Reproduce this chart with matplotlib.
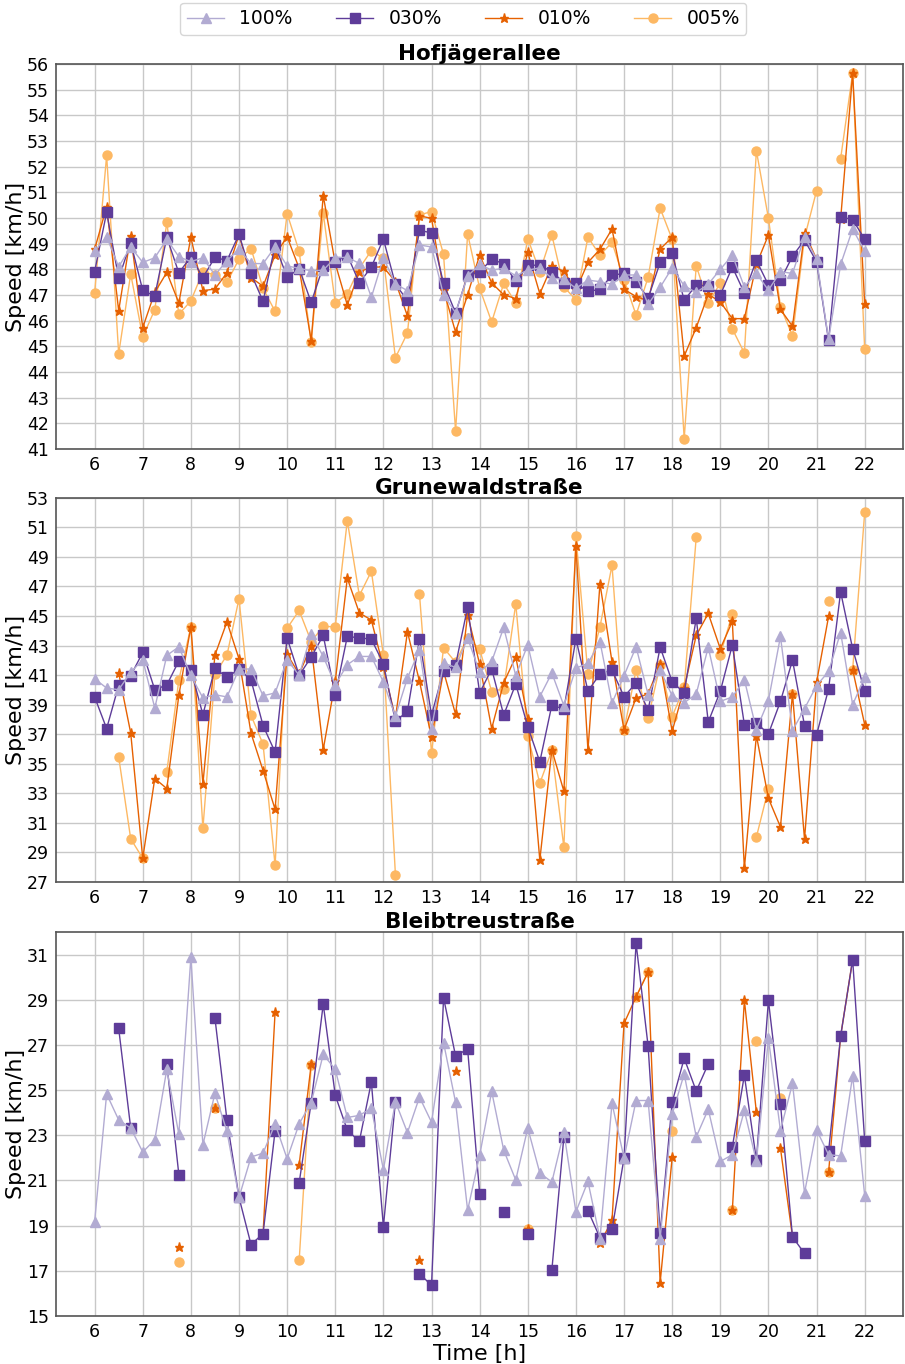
import numpy as np
import matplotlib
matplotlib.use('Agg')
import matplotlib.pyplot as plt

nan = np.nan

# time of day in quarter-hour steps
hours = np.arange(6, 22.01, 0.25)

# PuOr palette, one colour per share of probe vehicles
share_labels = ['100%', '030%', '010%', '005%']
share_colors = {'100%': '#b2abd2', '030%': '#5e3c99', '010%': '#e66101', '005%': '#fdb863'}
share_markers = {'100%': '^', '030%': 's', '010%': '*', '005%': 'o'}
share_sizes = {'100%': 6.5, '030%': 6.5, '010%': 6.5, '005%': 6.5}

# --- Hofjägerallee ---
hof_100 = [48.71, 49.27, 48.10, 48.87, 48.27, 48.45, 49.17, 48.49, 48.30, 48.45, 47.78, 48.34, 48.79,
           48.23, 48.22, 48.88, 48.13, 48.04, 47.94, 47.97, 48.45, 48.47, 48.23, 46.91, 48.45, 47.43,
           47.17, 48.95, 48.87, 47.00, 46.31, 47.74, 48.19, 47.97, 48.04, 47.75, 47.97, 48.06, 47.65,
           47.62, 47.26, 47.58, 47.52, 47.42, 47.78, 47.78, 46.64, 47.30, 48.06, 47.36, 47.10, 47.42,
           48.00, 48.55, 47.32, 47.84, 47.19, 47.91, 47.84, 49.27, 48.40, 45.27, 48.19, 49.57, 48.71]
hof_030 = [47.91, 50.22, 47.65, 49.04, 47.18, 46.96, 49.25, 47.86, 48.49, 47.68, 48.47, 48.34, 49.36,
           47.84, 46.75, 48.94, 47.69, 48.03, 46.71, 48.12, 48.30, 48.56, 47.47, 48.09, 49.18, 47.42,
           46.79, 49.52, 49.42, 47.45, 46.30, 47.77, 47.90, 48.39, 48.22, 47.53, 48.16, 48.16, 47.91,
           47.48, 47.45, 47.14, 47.22, 47.77, 47.84, 47.52, 46.87, 48.27, 48.62, 46.79, 47.39, 47.35,
           47.00, 48.09, 47.08, 48.35, 47.39, 47.58, 48.51, 49.14, 48.30, 45.23, 50.04, 49.94, 49.17]
hof_010 = [48.78, 50.44, 46.39, 49.31, 45.73, 47.10, 47.88, 46.69, 49.25, 47.17, 47.23, 47.87, 49.34,
           47.68, 47.34, 48.56, 49.27, 48.04, 45.22, 50.87, 48.23, 46.61, 47.90, 48.09, 48.09, 47.52,
           46.18, 50.08, 49.99, 47.20, 45.55, 47.01, 48.56, 47.47, 47.01, 46.86, 48.66, 47.05, 48.13,
           47.92, 47.19, 48.27, 48.78, 49.57, 47.22, 46.94, 46.77, 48.79, 49.25, 44.62, 45.73, 47.03,
           46.73, 46.08, 46.08, 48.19, 49.34, 46.44, 45.78, 49.43, 48.40, nan, 49.95, 55.64, 46.65]
hof_005 = [47.08, 52.44, 44.71, 47.82, 45.36, 46.43, 49.83, 46.25, 46.77, 47.91, 47.78, 47.49, 48.40,
           48.81, 47.26, 46.36, 50.17, 48.70, 45.16, 50.19, 46.68, 47.05, 48.04, 48.73, 48.43, 44.56,
           45.52, 50.12, 50.25, 48.58, 41.69, 49.38, 47.26, 45.95, 47.45, 46.68, 49.19, 47.91, 49.34,
           47.32, 46.81, 49.25, 48.55, 49.05, 47.60, 46.22, 47.69, 50.38, 49.17, 41.40, 48.14, 46.68,
           47.47, 45.68, 44.74, 52.62, 49.99, 46.55, 45.40, 49.23, 51.06, nan, 52.31, 55.64, 44.88]

# --- Grunewaldstraße ---
gru_100 = [40.75, 40.12, 40.01, 41.18, 42.04, 38.77, 42.33, 42.91, 40.98, 39.45, 39.67, 39.52, 41.41,
           41.41, 39.60, 39.79, 42.04, 40.98, 43.77, 42.26, 40.35, 41.70, 42.26, 42.26, 40.53, 38.21,
           40.80, 42.71, 37.38, 41.81, 41.52, 43.50, 41.20, 41.92, 44.22, 40.96, 43.05, 39.54, 41.14,
           38.93, 41.47, 41.79, 43.27, 39.11, 40.96, 42.91, 39.67, 41.36, 39.60, 39.13, 39.72, 42.89,
           39.22, 39.52, 40.69, 37.31, 39.27, 43.61, 37.24, 38.73, 40.28, 41.25, 43.88, 39.00, 40.84]
gru_030 = [39.52, 37.38, 40.30, 40.96, 42.53, 40.01, 40.33, 41.95, 41.36, 38.32, 41.47, 40.84, 41.41,
           40.66, 37.58, 35.78, 43.50, 40.98, 42.22, 43.68, 39.65, 43.61, 43.52, 43.43, 41.77, 37.87,
           38.55, 43.43, 38.28, 41.29, 41.68, 45.59, 39.79, 41.41, 38.30, 40.39, 37.51, 35.13, 38.97,
           38.70, 43.45, 39.92, 41.07, 41.34, 39.54, 40.46, 38.61, 42.89, 40.55, 39.79, 44.85, 37.83,
           39.90, 43.03, 37.65, 37.76, 37.02, 39.22, 42.01, 37.58, 36.95, 40.06, 46.63, 42.78, 39.92]
gru_010 = [nan, nan, 41.14, 37.08, 28.60, 34.00, 33.32, 39.63, 44.27, 33.64, 42.35, 44.60, 42.10,
           37.06, 34.54, 31.91, 42.40, 41.07, 42.98, 35.96, 40.57, 47.55, 45.21, 44.72, 41.52, 38.10,
           43.93, 40.57, 36.79, 41.25, 38.34, 45.08, 41.74, 37.38, 40.48, 42.24, 38.05, 28.48, 35.94,
           33.14, 49.74, 35.91, 47.19, 41.90, 37.29, 39.45, 39.72, 41.77, 37.20, 40.12, 43.68, 45.17,
           42.78, 44.63, 27.92, 36.91, 32.66, 30.72, 39.72, 29.89, 40.51, 44.97, nan, 41.37, 37.65]
gru_005 = [nan, nan, 35.46, 29.92, 28.60, nan, 34.45, 40.66, 44.27, 30.62, 41.07, 42.35, 46.16,
           38.28, 36.32, 28.12, 44.17, 45.37, 43.27, 44.29, 44.27, 51.45, 46.38, 48.02, 42.35, 27.49,
           nan, 46.49, 35.71, 42.85, 41.86, 43.54, 42.76, 39.88, 40.08, 45.82, 36.88, 33.68, 35.90,
           29.34, 50.41, 41.07, 44.27, 48.43, 37.29, 41.34, 38.07, 41.70, 38.19, 40.17, 50.33, nan,
           42.36, 45.15, nan, 30.04, 33.31, nan, 39.72, nan, nan, 45.98, nan, 41.37, 52.01]

# --- Bleibtreustraße ---
ble_100 = [19.17, 24.83, 23.68, 23.32, 22.26, 22.80, 25.92, 23.05, 30.88, 22.58, 24.86, 23.17, 20.25,
           22.04, 22.21, 23.51, 21.96, 23.51, 24.45, 26.58, 25.92, 23.79, 23.88, 24.20, 21.48, 24.49,
           23.12, 24.69, 23.58, 27.10, 24.46, 19.68, 22.11, 24.94, 22.34, 21.02, 23.32, 21.33, 20.93,
           23.14, 19.61, 20.96, 18.43, 24.42, 21.99, 24.54, 24.54, 18.43, 23.93, 25.72, 22.93, 24.15,
           21.84, 22.14, 24.10, 21.84, 27.29, 23.21, 25.30, 20.45, 23.24, 22.14, 22.09, 25.64, 20.33]
ble_030 = [nan, nan, 27.73, 23.32, nan, nan, 26.17, 21.26, nan, nan, 28.19, 23.67, 20.25,
           18.16, 18.65, 23.20, nan, 20.90, 24.45, 28.81, 24.77, 23.23, 22.73, 25.36, 18.96, 24.49,
           nan, 16.88, 16.35, 29.09, 26.51, 26.82, 20.42, nan, 19.59, nan, 18.61, nan, 17.03,
           22.93, nan, 19.67, 18.46, 18.83, 21.99, 31.50, 26.95, 18.66, 24.46, 26.41, 24.96, 26.16,
           nan, 22.48, 25.66, 21.90, 28.97, 24.39, 18.50, 17.77, nan, 22.29, 27.39, 30.78, 22.76]
ble_010 = [nan, nan, nan, nan, nan, nan, nan, 18.05, nan, nan, 24.23, nan, nan,
           nan, 18.65, 28.47, nan, 21.70, 26.14, nan, nan, nan, nan, nan, nan, nan,
           nan, 17.47, nan, nan, 25.86, nan, nan, nan, nan, nan, 18.87, nan, nan,
           nan, nan, nan, 18.21, 19.24, 27.95, 29.13, 30.23, 16.47, 22.02, nan, nan, nan,
           nan, 19.68, 28.98, 24.02, nan, 22.43, 18.50, nan, nan, 21.37, 27.39, 30.78, nan]
ble_005 = [nan, nan, nan, nan, nan, nan, nan, 17.38, nan, nan, 24.23, nan, nan,
           nan, nan, nan, nan, 17.46, 26.11, nan, nan, nan, nan, nan, nan, nan,
           nan, nan, nan, nan, nan, nan, nan, nan, nan, nan, 18.87, nan, nan,
           nan, nan, nan, nan, nan, nan, 29.13, 30.23, nan, 23.20, nan, nan, nan,
           nan, 19.68, nan, 27.17, nan, 24.64, nan, nan, nan, 21.37, nan, nan, nan]

streets = {
    'Hofjägerallee': {'100%': hof_100, '030%': hof_030, '010%': hof_010, '005%': hof_005},
    'Grunewaldstraße': {'100%': gru_100, '030%': gru_030, '010%': gru_010, '005%': gru_005},
    'Bleibtreustraße': {'100%': ble_100, '030%': ble_030, '010%': ble_010, '005%': ble_005},
}
y_ranges = {
    'Hofjägerallee': ((41, 56), np.arange(41, 57, 1)),
    'Grunewaldstraße': ((27, 53), np.arange(27, 54, 2)),
    'Bleibtreustraße': ((15, 32), np.arange(15, 32, 2)),
}

fig = plt.figure(figsize=(9.05, 13.64), dpi=100)
boxes = [(0.9531, 0.6708), (0.6351, 0.3534), (0.3167, 0.0352)]
left, right = 0.062, 0.998

handles = {}
for (top, bottom), (street, series) in zip(boxes, streets.items()):
    ax = fig.add_axes([left, bottom, right - left, top - bottom])
    # draw sparse shares first so the full fleet ends up on top
    for z, share in enumerate(reversed(share_labels)):
        line, = ax.plot(hours, np.array(series[share], dtype=float),
                        color=share_colors[share], marker=share_markers[share],
                        markersize=share_sizes[share], linewidth=1.0,
                        zorder=3 + z, label=share)
        handles[share] = line
    ylim, yticks = y_ranges[street]
    ax.set_ylim(ylim)
    ax.set_yticks(yticks)
    ax.set_xticks(np.arange(6, 23, 1))
    ax.set_xlim(5.2, 22.8)
    ax.grid(True, color='#c8c8c8', linewidth=1.0, zorder=0)
    ax.set_axisbelow(True)
    ax.tick_params(labelsize=12.5, length=0, pad=5)
    for spine in ax.spines.values():
        spine.set_color('#555555')
        spine.set_linewidth(1.2)
    ax.set_title(street, fontsize=15.5, fontweight='bold', pad=3)
    ax.set_ylabel('Speed [km/h]', fontsize=16, labelpad=1)
    if street == 'Bleibtreustraße':
        ax.set_xlabel('Time [h]', fontsize=16, labelpad=2)

fig.legend([handles[s] for s in share_labels], share_labels, loc='upper center',
           bbox_to_anchor=(0.512, 0.9995), ncol=4, fontsize=13.5, frameon=True,
           columnspacing=2.3, handlelength=2.0, borderpad=0.35, borderaxespad=0.1)

fig.savefig('out.png', dpi=100)
